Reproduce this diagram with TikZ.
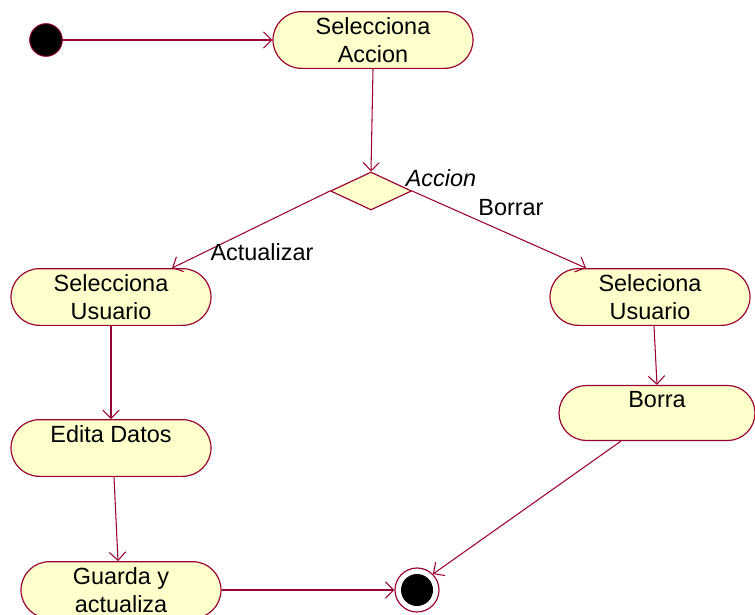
\documentclass[tikz,border=0pt]{standalone}
\usepackage{fontspec}
\setmainfont{Liberation Sans}
\usepackage{tikz}
\usetikzlibrary{calc}
\usetikzlibrary{shapes.misc}
\usetikzlibrary{shapes.geometric}
\usetikzlibrary{arrows.meta}

\definecolor{umlred}{HTML}{990033}
\definecolor{umlfill}{HTML}{FFFFCC}

\begin{document}
\begin{tikzpicture}[x=0.03cm, y=-0.03cm,
    activity/.style={rounded rectangle, draw=umlred, fill=umlfill, line width=1pt,
        minimum width=6cm, minimum height=1.7cm, inner sep=0pt, align=center,
        font=\fontsize{20}{24}\selectfont},
    flow/.style={draw=umlred, line width=0.9pt, -{Straight Barb[length=7pt, width=14pt]}},
    lbl/.style={font=\fontsize{20}{24}\selectfont}]
    \useasboundingbox (0,0) rectangle (755,614);

    \node[circle, fill=black, draw=umlred, line width=0.8pt, minimum size=0.98cm, inner sep=0pt] (Start) at (46,40) {};
    \node[activity] (SelAccion) at (373,40) {Selecciona\\Accion};
    \node[diamond, draw=umlred, fill=umlfill, line width=1pt, minimum width=2.43cm, minimum height=1.14cm, inner sep=0pt] (Decision) at (371,191) {};
    \node[activity] (SelUsuarioA) at (111,297) {Selecciona\\Usuario};
    \node[activity] (SelUsuarioB) at (650,297) {Seleciona\\Usuario};
    \node[activity, minimum width=5.88cm, minimum height=1.65cm] (Borra) at (657,413) {Borra\\~};
    \node[activity] (EditaDatos) at (111,448) {Edita Datos\\~};
    \node[activity] (Guarda) at (121,590) {Guarda y\\actualiza};
    \node[circle, draw=umlred, fill=white, line width=1pt, minimum size=1.32cm, inner sep=0pt] (End) at (417,590) {};
    \node[circle, fill=black, minimum size=0.96cm, inner sep=0pt] (EndDot) at (End) {};

    \coordinate (ActTop) at ($(SelUsuarioA.north)+(61,0)$);
    \coordinate (BorTop) at ($(SelUsuarioB.north)+(-64,0)$);
    \coordinate (SelBorBottom) at ($(SelUsuarioB.south)+(4,0)$);
    \coordinate (EditaBottom) at ($(EditaDatos.south)+(3,0)$);
    \coordinate (GuardaTop) at ($(Guarda.north)+(-3,0)$);
    \coordinate (BorraBottom) at ($(Borra.south)+(-36,0)$);

    \draw[flow] (Start) -- (SelAccion.west);
    \draw[flow] (SelAccion.south) -- (Decision.north);
    \draw[flow] (Decision.west) -- (ActTop);
    \draw[flow] (Decision.east) -- (BorTop);
    \draw[flow] (SelBorBottom) -- (Borra.north);
    \draw[flow] (SelUsuarioA.south) -- (EditaDatos.north);
    \draw[flow] (EditaBottom) -- (GuardaTop);
    \draw[flow] (Guarda.east) -- (End.west);
    \draw[flow] (BorraBottom) -- (End.north east);

    \node[lbl, font=\fontsize{20}{24}\selectfont\itshape] (AccionLbl) at (441,178) {Accion};
    \node[lbl] (BorrarLbl) at (511,208) {Borrar};
    \node[lbl] (ActualizarLbl) at (262,252) {Actualizar};
\end{tikzpicture}
\end{document}
